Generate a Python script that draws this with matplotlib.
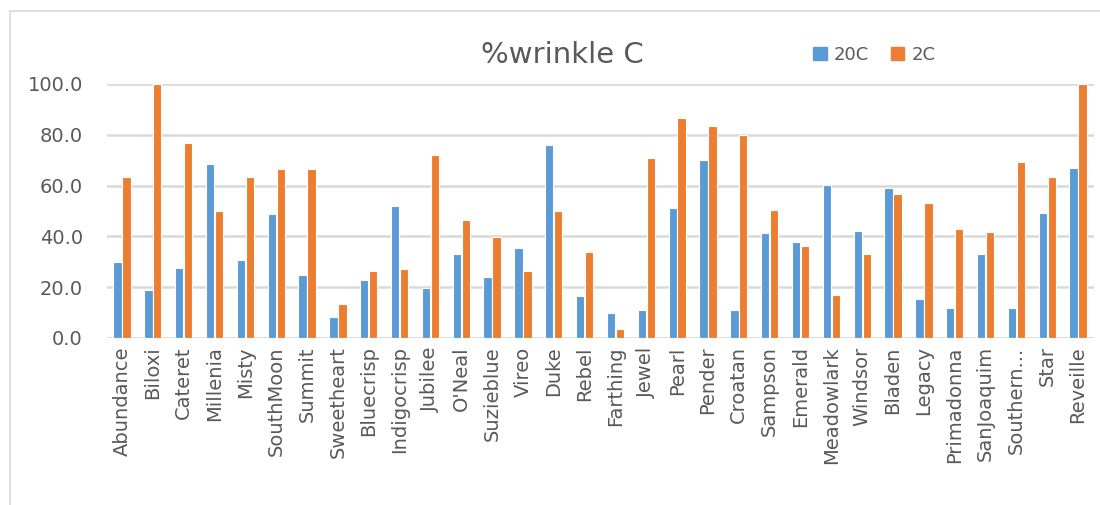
import numpy as np
import matplotlib
matplotlib.use("Agg")
import matplotlib.pyplot as plt
from matplotlib.lines import Line2D
from matplotlib.patches import Patch

varieties = ["Abundance", "Biloxi", "Cateret", "Millenia", "Misty", "SouthMoon",
             "Summit", "Sweetheart", "Bluecrisp", "Indigocrisp", "Jubilee", "O'Neal",
             "Suzieblue", "Vireo", "Duke", "Rebel", "Farthing", "Jewel", "Pearl",
             "Pender", "Croatan", "Sampson", "Emerald", "Meadowlark", "Windsor",
             "Bladen", "Legacy", "Primadonna", "SanJoaquim", "Southern...", "Star",
             "Reveille"]

# percent wrinkled fruit at each storage temperature
wrinkle_20c = [29.8, 18.7, 27.6, 68.6, 30.9, 49.0, 24.7, 8.1, 22.9, 51.8, 19.7, 33.1,
               24.0, 35.5, 76.1, 16.4, 9.7, 10.9, 51.1, 70.0, 10.9, 41.5, 37.8, 60.1,
               42.0, 58.9, 15.4, 11.8, 33.1, 11.8, 49.4, 67.0]
wrinkle_2c = [63.2, 100.0, 76.7, 49.8, 63.2, 66.6, 66.6, 13.4, 26.4, 27.2, 72.1, 46.5,
              39.9, 26.4, 49.8, 33.8, 3.5, 71.0, 86.7, 83.4, 80.0, 50.3, 36.4, 17.0,
              33.1, 56.5, 53.2, 43.1, 41.7, 69.4, 63.2, 100.0]

BLUE = "#5B9BD5"
ORANGE = "#ED7D31"
GREY = "#595959"
GRID = "#D9D9D9"

fig = plt.figure(figsize=(11, 5.05), dpi=100)
ax = fig.add_axes([0.0969, 0.3307, 0.8972, 0.503])

x = np.arange(len(varieties))
w = 0.27
ax.bar(x - 0.145, wrinkle_20c, w, color=BLUE, edgecolor="white", linewidth=0.8, zorder=3)
ax.bar(x + 0.145, wrinkle_2c, w, color=ORANGE, edgecolor="white", linewidth=0.8, zorder=3)

ax.set_xlim(-0.5, len(varieties) - 0.5)
ax.set_ylim(0, 100)
ax.set_yticks(np.arange(0, 101, 20))
ax.set_yticklabels([f"{v:.1f}" for v in range(0, 101, 20)])
ax.yaxis.grid(True, color=GRID, linewidth=1.8, zorder=0)
for s in ax.spines.values():
    s.set_visible(False)
ax.axhline(0, color=GRID, linewidth=1.8, zorder=1)

ax.set_xticks(x)
ax.set_xticklabels(varieties, rotation=90, fontsize=14, color=GREY)
ax.tick_params(axis="x", length=0, pad=6)
ax.tick_params(axis="y", length=0, pad=17, labelsize=14, labelcolor=GREY)

fig.text(0.511, 0.891, "%wrinkle C", ha="center", va="center", fontsize=21, color=GREY)

handles = [Patch(color=BLUE, label="20C"), Patch(color=ORANGE, label="2C")]
fig.legend(handles=handles, loc="center", bbox_to_anchor=(0.795, 0.891), ncol=2,
           frameon=False, fontsize=13, labelcolor=GREY, handlelength=0.75,
           handleheight=0.75, handletextpad=0.4, columnspacing=1.2)

# chart border
fig.add_artist(Line2D([0.009, 0.009], [0.0, 0.978], color=GRID, linewidth=1.2))
fig.add_artist(Line2D([0.009, 1.0], [0.978, 0.978], color=GRID, linewidth=1.2))

fig.savefig("out.png", dpi=100)
